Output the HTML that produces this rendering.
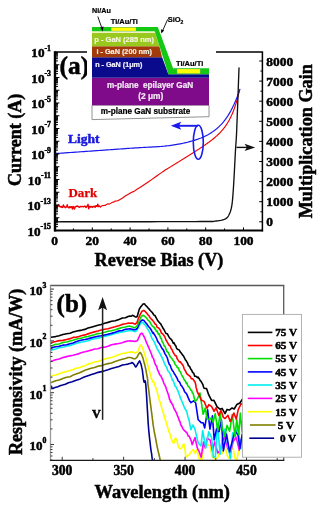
<!DOCTYPE html>
<html><head><meta charset="utf-8"><style>html,body{margin:0;padding:0;background:#fff;width:327px;height:517px;overflow:hidden}svg{display:block;will-change:transform}</style></head>
<body><svg width="327" height="517" viewBox="0 0 327 517"><polyline points="54.50,205.80 56.50,207.00 57.50,206.99 58.15,205.00 58.80,204.98 59.45,206.44 60.10,206.48 60.75,207.10 61.40,206.55 62.05,207.44 62.70,207.34 63.35,204.88 64.00,206.79 64.65,206.47 65.30,207.71 65.95,207.27 66.60,206.88 67.25,204.80 67.90,207.08 68.55,207.57 69.20,207.82 69.85,206.59 70.50,207.53 71.15,206.65 71.80,206.71 72.45,209.08 73.10,206.36 73.75,207.73 74.40,209.04 75.05,206.64 75.70,206.90 76.35,206.12 77.00,206.47 77.65,206.08 78.30,206.51 78.95,207.17 79.60,207.21 80.25,206.54 80.90,206.54 81.55,206.77 82.20,206.38 82.85,206.57 83.50,206.73 84.15,206.55 84.80,206.06 85.45,206.79 86.10,207.56 86.75,206.45 87.40,205.90 88.05,204.34 88.70,208.72 89.35,206.67 90.00,206.27 90.65,207.23 91.30,206.85 91.95,206.48 92.60,207.35 93.25,206.63 93.90,206.32 94.55,206.32 95.20,207.35 95.85,205.77 96.50,205.74 97.15,206.50 97.80,204.12 98.45,206.62 99.10,205.95 99.75,206.14 100.40,207.00" fill="none" stroke="#ee0000" stroke-width="1.4" stroke-linejoin="round" stroke-linecap="round" />
<polyline points="101.00,206.37 101.34,206.30 101.79,205.81 102.37,205.68 103.10,205.72 104.00,205.36 105.14,205.55 106.50,204.41 107.99,203.74 109.52,204.11 111.00,203.13 112.35,202.25 113.63,202.19 114.96,201.16 116.48,201.01 118.30,200.58 120.49,199.31 122.97,197.78 125.64,195.82 128.42,194.32 131.20,192.47 134.03,191.37 136.98,189.30 139.98,187.43 142.97,185.52 145.90,183.60 148.89,181.56 151.97,179.37 154.97,177.21 157.71,175.23 160.00,173.60 161.79,172.37 163.20,171.42 164.31,170.68 165.22,170.10 166.00,169.59 166.59,169.21 166.92,169.00 167.12,168.89 167.27,168.80 167.50,168.66 167.80,168.48 168.10,168.30 168.40,168.11 168.70,167.93 169.00,167.74 169.30,167.56 169.60,167.37 169.90,167.19 170.20,167.00 170.50,166.82 170.80,166.63 171.10,166.45 171.40,166.26 171.70,166.08 172.00,165.89 172.30,165.71 172.60,165.52 172.90,165.34 173.20,165.15 173.50,164.97 173.80,164.78 174.10,164.60 174.40,164.41 174.70,164.23 175.00,164.04 175.30,163.86 175.60,163.67 175.90,163.49 176.20,163.30 176.50,163.11 176.80,162.93 177.10,162.74 177.40,162.56 177.70,162.37 178.00,162.19 178.30,162.00 178.60,161.82 178.90,161.63 179.20,161.44 179.50,161.26 179.80,161.07 180.10,160.89 180.40,160.70 180.70,160.52 181.00,160.33 181.30,160.14 181.60,159.96 181.90,159.77 182.20,159.59 182.50,159.40 182.80,159.21 183.10,159.03 183.40,158.84 183.70,158.65 184.00,158.47 184.30,158.28 184.60,158.09 184.90,157.91 185.20,157.72 185.50,157.53 185.80,157.35 186.10,157.16 186.40,156.97 186.70,156.79 187.00,156.60 187.30,156.41 187.60,156.22 187.90,156.04 188.20,155.85 188.50,155.66 188.80,155.47 189.10,155.28 189.40,155.10 189.70,154.91 190.00,154.72 190.30,154.53 190.60,154.34 190.90,154.15 191.20,153.96 191.50,153.77 191.80,153.58 192.10,153.40 192.40,153.21 192.70,153.02 193.00,152.83 193.30,152.63 193.60,152.44 193.90,152.25 194.20,152.06 194.50,151.87 194.80,151.68 195.10,151.49 195.40,151.30 195.70,151.10 196.00,150.91 196.30,150.72 196.60,150.53 196.90,150.33 197.20,150.14 197.50,149.94 197.80,149.75 198.10,149.56 198.40,149.36 198.70,149.16 199.00,148.97 199.30,148.77 199.60,148.58 199.90,148.38 200.20,148.18 200.50,147.98 200.80,147.79 201.10,147.59 201.40,147.39 201.70,147.19 202.00,146.99 202.30,146.79 202.60,146.58 202.90,146.38 203.20,146.18 203.50,145.98 203.80,145.77 204.10,145.57 204.40,145.36 204.70,145.15 205.00,144.95 205.30,144.74 205.60,144.53 205.90,144.32 206.20,144.11 206.50,143.90 206.80,143.69 207.10,143.48 207.40,143.26 207.70,143.05 208.00,142.83 208.30,142.61 208.60,142.39 208.90,142.17 209.20,141.95 209.50,141.73 209.80,141.51 210.10,141.28 210.40,141.06 210.70,140.83 211.00,140.60 211.30,140.37 211.60,140.14 211.90,139.90 212.20,139.67 212.50,139.43 212.80,139.19 213.10,138.95 213.40,138.70 213.70,138.46 214.00,138.21 214.30,137.96 214.60,137.71 214.90,137.46 215.20,137.20 215.50,136.94 215.80,136.68 216.10,136.41 216.40,136.15 216.70,135.87 217.00,135.60 217.30,135.32 217.60,135.04 217.90,134.76 218.20,134.48 218.50,134.19 218.80,133.89 219.10,133.59 219.40,133.29 219.70,132.99 220.00,132.68 220.30,132.36 220.60,132.04 220.90,131.72 221.20,131.39 221.50,131.06 221.80,130.72 222.10,130.38 222.40,130.03 222.70,129.67 223.00,129.31 223.30,128.94 223.60,128.57 223.90,128.19 224.20,127.80 224.50,127.41 224.80,127.01 225.10,126.60 225.40,126.18 225.70,125.76 226.00,125.32 226.30,124.88 226.60,124.43 226.90,123.97 227.20,123.50 227.50,123.02 227.80,122.53 228.10,122.03 228.40,121.52 228.70,121.00 229.00,120.46 229.30,119.91 229.60,119.35 229.90,118.78 230.20,118.19 230.50,117.59 230.80,116.98 231.10,116.35 231.40,115.70 231.70,115.04 232.00,114.36 232.30,113.66 232.60,112.95 232.90,112.22 233.20,111.47 233.50,110.69 233.80,109.90 234.10,109.09 234.40,108.26 234.70,107.40 235.00,106.52 235.30,105.61 235.60,104.68 235.90,103.73 236.20,102.74 236.50,101.73 236.80,100.67 237.11,99.57 237.41,98.45 237.71,97.33 238.00,96.22 238.29,95.04 238.60,93.77 238.88,92.54 239.13,91.50 239.30,90.75" fill="none" stroke="#ee0000" stroke-width="1.15" stroke-linejoin="round" stroke-linecap="round" />
<polyline points="55.50,153.55 57.00,153.45 58.50,153.34 60.00,153.24 61.50,153.13 63.00,153.03 64.50,152.92 66.00,152.82 67.50,152.71 69.00,152.61 70.50,152.50 72.00,152.40 73.50,152.29 75.00,152.19 76.50,152.08 78.00,151.98 79.50,151.87 81.00,151.76 82.50,151.66 84.00,151.55 85.50,151.45 87.00,151.34 88.50,151.24 90.00,151.13 91.50,151.03 93.00,150.92 94.50,150.81 96.00,150.71 97.50,150.60 99.00,150.50 100.50,150.39 102.00,150.28 103.50,150.18 105.00,150.07 106.50,149.96 108.00,149.86 109.50,149.75 111.00,149.64 112.50,149.54 114.00,149.43 115.50,149.32 117.00,149.21 118.50,149.11 120.00,149.00 121.50,148.89 123.00,148.79 124.50,148.68 126.00,148.57 127.50,148.47 129.00,148.37 130.50,148.26 132.00,148.16 133.50,148.06 135.00,147.97 136.50,147.87 138.00,147.78 139.50,147.69 141.00,147.60 142.50,147.52 144.00,147.43 145.50,147.35 147.00,147.27 148.50,147.19 150.00,147.12 151.50,147.04 153.00,146.96 154.50,146.87 156.00,146.78 157.50,146.69 159.00,146.59 160.50,146.48 162.00,146.36 163.50,146.23 165.00,146.09 166.50,145.93 168.00,145.76 169.50,145.58 171.00,145.38 172.50,145.17 174.00,144.94 175.50,144.70 177.00,144.44 178.50,144.16 180.00,143.88 181.50,143.57 183.00,143.25 184.50,142.92 186.00,142.57 187.50,142.21 189.00,141.83 190.50,141.43 192.00,141.01 193.50,140.57 195.00,140.11 196.50,139.62 198.00,139.11 199.50,138.56 201.00,137.99 202.50,137.37 204.00,136.71 205.50,136.00 207.00,135.25 208.50,134.44 210.00,133.56 211.50,132.62 213.00,131.61 214.50,130.52 216.00,129.34 217.50,128.06 219.00,126.68 220.50,125.18 222.00,123.56 223.50,121.80 225.00,119.89 226.50,117.82 228.00,115.58 229.50,113.14 231.00,110.49 232.50,107.61 234.00,104.48 235.50,101.09 237.00,97.39 238.50,93.37 239.90,89.30" fill="none" stroke="#1a1aee" stroke-width="1.2" stroke-linejoin="round" stroke-linecap="round" />
<polyline points="55.50,221.80 63.06,221.79 73.41,221.78 85.75,221.77 99.31,221.76 113.30,221.75 126.94,221.73 139.43,221.72 150.00,221.70 159.07,221.68 167.58,221.66 175.50,221.64 182.78,221.61 189.41,221.59 195.34,221.56 200.55,221.53 205.00,221.50 208.40,221.48 210.65,221.48 212.03,221.48 212.79,221.48 213.20,221.46 213.53,221.42 214.04,221.33 215.00,221.20 216.32,221.03 217.72,220.83 219.15,220.61 220.57,220.36 221.94,220.06 223.23,219.73 224.40,219.34 225.40,218.90 226.23,218.41 226.91,217.87 227.48,217.29 227.96,216.66 228.37,215.99 228.75,215.27 229.12,214.51 229.50,213.70 229.88,212.85 230.23,211.96 230.54,211.03 230.83,210.05 231.10,209.02 231.34,207.94 231.58,206.80 231.80,205.60 232.00,204.36 232.18,203.08 232.33,201.76 232.48,200.38 232.61,198.93 232.73,197.39 232.86,195.75 233.00,194.00 233.14,192.17 233.28,190.27 233.41,188.30 233.54,186.24 233.67,184.05 233.81,181.73 233.95,179.25 234.10,176.60 234.26,173.67 234.43,170.44 234.61,167.01 234.79,163.46 234.98,159.90 235.16,156.40 235.33,153.07 235.50,150.00 235.65,147.47 235.79,145.52 235.92,143.86 236.04,142.21 236.18,140.29 236.33,137.80 236.50,134.46 236.70,130.00 236.95,123.84 237.25,116.00 237.58,107.10 237.92,97.75 238.26,88.55 238.56,80.12 238.82,73.07 239.00,68.00" fill="none" stroke="#111" stroke-width="1.35" stroke-linejoin="round" stroke-linecap="round" />
<ellipse cx="198.3" cy="142.3" rx="5" ry="17" fill="none" stroke="#1a1aee" stroke-width="1.6"/>
<polyline points="198,125.8 178,125.8" fill="none" stroke="#1a1aee" stroke-width="1.9"/>
<polygon points="170.8,125.8 181.2,121.8 179,125.8 181.2,129.8" fill="#1a1aee"/>
<line x1="236.5" y1="147.4" x2="248" y2="147.4" stroke="#111" stroke-width="1.4"/>
<polygon points="255.2,147.4 244.5,143.8 247,147.4 244.5,151" fill="#111"/>
<text stroke="#1a1add" x="68" y="143.3" font-family="Liberation Serif" font-weight="bold" stroke-width="0.5" font-size="13.5" fill="#1a1add">Light</text>
<text stroke="#e00000" x="68.4" y="197.1" font-family="Liberation Serif" font-weight="bold" stroke-width="0.25" font-size="13" fill="#e00000">Dark</text>
<line x1="55.0" y1="51.2" x2="55.0" y2="231.4" stroke="#000" stroke-width="2.4"/>
<line x1="54.0" y1="230.4" x2="263.09999999999997" y2="230.4" stroke="#000" stroke-width="2"/>
<line x1="262.4" y1="52.0" x2="262.4" y2="231.4" stroke="#000" stroke-width="1.5"/>
<line x1="55.0" y1="52.0" x2="263.09999999999997" y2="52.0" stroke="#000" stroke-width="1.6"/>
<line x1="55.0" y1="230.50" x2="59.40" y2="230.50" stroke="#000" stroke-width="1"/>
<line x1="55.0" y1="226.66" x2="58.00" y2="226.66" stroke="#000" stroke-width="1"/>
<line x1="55.0" y1="224.42" x2="58.00" y2="224.42" stroke="#000" stroke-width="1"/>
<line x1="55.0" y1="222.82" x2="58.00" y2="222.82" stroke="#000" stroke-width="1"/>
<line x1="55.0" y1="221.59" x2="58.00" y2="221.59" stroke="#000" stroke-width="1"/>
<line x1="55.0" y1="220.58" x2="58.00" y2="220.58" stroke="#000" stroke-width="1"/>
<line x1="55.0" y1="219.72" x2="58.00" y2="219.72" stroke="#000" stroke-width="1"/>
<line x1="55.0" y1="218.99" x2="58.00" y2="218.99" stroke="#000" stroke-width="1"/>
<line x1="55.0" y1="218.33" x2="58.00" y2="218.33" stroke="#000" stroke-width="1"/>
<line x1="55.0" y1="217.75" x2="59.40" y2="217.75" stroke="#000" stroke-width="1"/>
<line x1="55.0" y1="213.91" x2="58.00" y2="213.91" stroke="#000" stroke-width="1"/>
<line x1="55.0" y1="211.67" x2="58.00" y2="211.67" stroke="#000" stroke-width="1"/>
<line x1="55.0" y1="210.07" x2="58.00" y2="210.07" stroke="#000" stroke-width="1"/>
<line x1="55.0" y1="208.84" x2="58.00" y2="208.84" stroke="#000" stroke-width="1"/>
<line x1="55.0" y1="207.83" x2="58.00" y2="207.83" stroke="#000" stroke-width="1"/>
<line x1="55.0" y1="206.97" x2="58.00" y2="206.97" stroke="#000" stroke-width="1"/>
<line x1="55.0" y1="206.24" x2="58.00" y2="206.24" stroke="#000" stroke-width="1"/>
<line x1="55.0" y1="205.58" x2="58.00" y2="205.58" stroke="#000" stroke-width="1"/>
<line x1="55.0" y1="205.00" x2="59.40" y2="205.00" stroke="#000" stroke-width="1"/>
<line x1="55.0" y1="201.16" x2="58.00" y2="201.16" stroke="#000" stroke-width="1"/>
<line x1="55.0" y1="198.92" x2="58.00" y2="198.92" stroke="#000" stroke-width="1"/>
<line x1="55.0" y1="197.32" x2="58.00" y2="197.32" stroke="#000" stroke-width="1"/>
<line x1="55.0" y1="196.09" x2="58.00" y2="196.09" stroke="#000" stroke-width="1"/>
<line x1="55.0" y1="195.08" x2="58.00" y2="195.08" stroke="#000" stroke-width="1"/>
<line x1="55.0" y1="194.22" x2="58.00" y2="194.22" stroke="#000" stroke-width="1"/>
<line x1="55.0" y1="193.49" x2="58.00" y2="193.49" stroke="#000" stroke-width="1"/>
<line x1="55.0" y1="192.83" x2="58.00" y2="192.83" stroke="#000" stroke-width="1"/>
<line x1="55.0" y1="192.25" x2="59.40" y2="192.25" stroke="#000" stroke-width="1"/>
<line x1="55.0" y1="188.41" x2="58.00" y2="188.41" stroke="#000" stroke-width="1"/>
<line x1="55.0" y1="186.17" x2="58.00" y2="186.17" stroke="#000" stroke-width="1"/>
<line x1="55.0" y1="184.57" x2="58.00" y2="184.57" stroke="#000" stroke-width="1"/>
<line x1="55.0" y1="183.34" x2="58.00" y2="183.34" stroke="#000" stroke-width="1"/>
<line x1="55.0" y1="182.33" x2="58.00" y2="182.33" stroke="#000" stroke-width="1"/>
<line x1="55.0" y1="181.47" x2="58.00" y2="181.47" stroke="#000" stroke-width="1"/>
<line x1="55.0" y1="180.74" x2="58.00" y2="180.74" stroke="#000" stroke-width="1"/>
<line x1="55.0" y1="180.08" x2="58.00" y2="180.08" stroke="#000" stroke-width="1"/>
<line x1="55.0" y1="179.50" x2="59.40" y2="179.50" stroke="#000" stroke-width="1"/>
<line x1="55.0" y1="175.66" x2="58.00" y2="175.66" stroke="#000" stroke-width="1"/>
<line x1="55.0" y1="173.42" x2="58.00" y2="173.42" stroke="#000" stroke-width="1"/>
<line x1="55.0" y1="171.82" x2="58.00" y2="171.82" stroke="#000" stroke-width="1"/>
<line x1="55.0" y1="170.59" x2="58.00" y2="170.59" stroke="#000" stroke-width="1"/>
<line x1="55.0" y1="169.58" x2="58.00" y2="169.58" stroke="#000" stroke-width="1"/>
<line x1="55.0" y1="168.72" x2="58.00" y2="168.72" stroke="#000" stroke-width="1"/>
<line x1="55.0" y1="167.99" x2="58.00" y2="167.99" stroke="#000" stroke-width="1"/>
<line x1="55.0" y1="167.33" x2="58.00" y2="167.33" stroke="#000" stroke-width="1"/>
<line x1="55.0" y1="166.75" x2="59.40" y2="166.75" stroke="#000" stroke-width="1"/>
<line x1="55.0" y1="162.91" x2="58.00" y2="162.91" stroke="#000" stroke-width="1"/>
<line x1="55.0" y1="160.67" x2="58.00" y2="160.67" stroke="#000" stroke-width="1"/>
<line x1="55.0" y1="159.07" x2="58.00" y2="159.07" stroke="#000" stroke-width="1"/>
<line x1="55.0" y1="157.84" x2="58.00" y2="157.84" stroke="#000" stroke-width="1"/>
<line x1="55.0" y1="156.83" x2="58.00" y2="156.83" stroke="#000" stroke-width="1"/>
<line x1="55.0" y1="155.97" x2="58.00" y2="155.97" stroke="#000" stroke-width="1"/>
<line x1="55.0" y1="155.24" x2="58.00" y2="155.24" stroke="#000" stroke-width="1"/>
<line x1="55.0" y1="154.58" x2="58.00" y2="154.58" stroke="#000" stroke-width="1"/>
<line x1="55.0" y1="154.00" x2="59.40" y2="154.00" stroke="#000" stroke-width="1"/>
<line x1="55.0" y1="150.16" x2="58.00" y2="150.16" stroke="#000" stroke-width="1"/>
<line x1="55.0" y1="147.92" x2="58.00" y2="147.92" stroke="#000" stroke-width="1"/>
<line x1="55.0" y1="146.32" x2="58.00" y2="146.32" stroke="#000" stroke-width="1"/>
<line x1="55.0" y1="145.09" x2="58.00" y2="145.09" stroke="#000" stroke-width="1"/>
<line x1="55.0" y1="144.08" x2="58.00" y2="144.08" stroke="#000" stroke-width="1"/>
<line x1="55.0" y1="143.22" x2="58.00" y2="143.22" stroke="#000" stroke-width="1"/>
<line x1="55.0" y1="142.49" x2="58.00" y2="142.49" stroke="#000" stroke-width="1"/>
<line x1="55.0" y1="141.83" x2="58.00" y2="141.83" stroke="#000" stroke-width="1"/>
<line x1="55.0" y1="141.25" x2="59.40" y2="141.25" stroke="#000" stroke-width="1"/>
<line x1="55.0" y1="137.41" x2="58.00" y2="137.41" stroke="#000" stroke-width="1"/>
<line x1="55.0" y1="135.17" x2="58.00" y2="135.17" stroke="#000" stroke-width="1"/>
<line x1="55.0" y1="133.57" x2="58.00" y2="133.57" stroke="#000" stroke-width="1"/>
<line x1="55.0" y1="132.34" x2="58.00" y2="132.34" stroke="#000" stroke-width="1"/>
<line x1="55.0" y1="131.33" x2="58.00" y2="131.33" stroke="#000" stroke-width="1"/>
<line x1="55.0" y1="130.47" x2="58.00" y2="130.47" stroke="#000" stroke-width="1"/>
<line x1="55.0" y1="129.74" x2="58.00" y2="129.74" stroke="#000" stroke-width="1"/>
<line x1="55.0" y1="129.08" x2="58.00" y2="129.08" stroke="#000" stroke-width="1"/>
<line x1="55.0" y1="128.50" x2="59.40" y2="128.50" stroke="#000" stroke-width="1"/>
<line x1="55.0" y1="124.66" x2="58.00" y2="124.66" stroke="#000" stroke-width="1"/>
<line x1="55.0" y1="122.42" x2="58.00" y2="122.42" stroke="#000" stroke-width="1"/>
<line x1="55.0" y1="120.82" x2="58.00" y2="120.82" stroke="#000" stroke-width="1"/>
<line x1="55.0" y1="119.59" x2="58.00" y2="119.59" stroke="#000" stroke-width="1"/>
<line x1="55.0" y1="118.58" x2="58.00" y2="118.58" stroke="#000" stroke-width="1"/>
<line x1="55.0" y1="117.72" x2="58.00" y2="117.72" stroke="#000" stroke-width="1"/>
<line x1="55.0" y1="116.99" x2="58.00" y2="116.99" stroke="#000" stroke-width="1"/>
<line x1="55.0" y1="116.33" x2="58.00" y2="116.33" stroke="#000" stroke-width="1"/>
<line x1="55.0" y1="115.75" x2="59.40" y2="115.75" stroke="#000" stroke-width="1"/>
<line x1="55.0" y1="111.91" x2="58.00" y2="111.91" stroke="#000" stroke-width="1"/>
<line x1="55.0" y1="109.67" x2="58.00" y2="109.67" stroke="#000" stroke-width="1"/>
<line x1="55.0" y1="108.07" x2="58.00" y2="108.07" stroke="#000" stroke-width="1"/>
<line x1="55.0" y1="106.84" x2="58.00" y2="106.84" stroke="#000" stroke-width="1"/>
<line x1="55.0" y1="105.83" x2="58.00" y2="105.83" stroke="#000" stroke-width="1"/>
<line x1="55.0" y1="104.97" x2="58.00" y2="104.97" stroke="#000" stroke-width="1"/>
<line x1="55.0" y1="104.24" x2="58.00" y2="104.24" stroke="#000" stroke-width="1"/>
<line x1="55.0" y1="103.58" x2="58.00" y2="103.58" stroke="#000" stroke-width="1"/>
<line x1="55.0" y1="103.00" x2="59.40" y2="103.00" stroke="#000" stroke-width="1"/>
<line x1="55.0" y1="99.16" x2="58.00" y2="99.16" stroke="#000" stroke-width="1"/>
<line x1="55.0" y1="96.92" x2="58.00" y2="96.92" stroke="#000" stroke-width="1"/>
<line x1="55.0" y1="95.32" x2="58.00" y2="95.32" stroke="#000" stroke-width="1"/>
<line x1="55.0" y1="94.09" x2="58.00" y2="94.09" stroke="#000" stroke-width="1"/>
<line x1="55.0" y1="93.08" x2="58.00" y2="93.08" stroke="#000" stroke-width="1"/>
<line x1="55.0" y1="92.22" x2="58.00" y2="92.22" stroke="#000" stroke-width="1"/>
<line x1="55.0" y1="91.49" x2="58.00" y2="91.49" stroke="#000" stroke-width="1"/>
<line x1="55.0" y1="90.83" x2="58.00" y2="90.83" stroke="#000" stroke-width="1"/>
<line x1="55.0" y1="90.25" x2="59.40" y2="90.25" stroke="#000" stroke-width="1"/>
<line x1="55.0" y1="86.41" x2="58.00" y2="86.41" stroke="#000" stroke-width="1"/>
<line x1="55.0" y1="84.17" x2="58.00" y2="84.17" stroke="#000" stroke-width="1"/>
<line x1="55.0" y1="82.57" x2="58.00" y2="82.57" stroke="#000" stroke-width="1"/>
<line x1="55.0" y1="81.34" x2="58.00" y2="81.34" stroke="#000" stroke-width="1"/>
<line x1="55.0" y1="80.33" x2="58.00" y2="80.33" stroke="#000" stroke-width="1"/>
<line x1="55.0" y1="79.47" x2="58.00" y2="79.47" stroke="#000" stroke-width="1"/>
<line x1="55.0" y1="78.74" x2="58.00" y2="78.74" stroke="#000" stroke-width="1"/>
<line x1="55.0" y1="78.08" x2="58.00" y2="78.08" stroke="#000" stroke-width="1"/>
<line x1="55.0" y1="77.50" x2="59.40" y2="77.50" stroke="#000" stroke-width="1"/>
<line x1="55.0" y1="73.66" x2="58.00" y2="73.66" stroke="#000" stroke-width="1"/>
<line x1="55.0" y1="71.42" x2="58.00" y2="71.42" stroke="#000" stroke-width="1"/>
<line x1="55.0" y1="69.82" x2="58.00" y2="69.82" stroke="#000" stroke-width="1"/>
<line x1="55.0" y1="68.59" x2="58.00" y2="68.59" stroke="#000" stroke-width="1"/>
<line x1="55.0" y1="67.58" x2="58.00" y2="67.58" stroke="#000" stroke-width="1"/>
<line x1="55.0" y1="66.72" x2="58.00" y2="66.72" stroke="#000" stroke-width="1"/>
<line x1="55.0" y1="65.99" x2="58.00" y2="65.99" stroke="#000" stroke-width="1"/>
<line x1="55.0" y1="65.33" x2="58.00" y2="65.33" stroke="#000" stroke-width="1"/>
<line x1="55.0" y1="64.75" x2="59.40" y2="64.75" stroke="#000" stroke-width="1"/>
<line x1="55.0" y1="60.91" x2="58.00" y2="60.91" stroke="#000" stroke-width="1"/>
<line x1="55.0" y1="58.67" x2="58.00" y2="58.67" stroke="#000" stroke-width="1"/>
<line x1="55.0" y1="57.07" x2="58.00" y2="57.07" stroke="#000" stroke-width="1"/>
<line x1="55.0" y1="55.84" x2="58.00" y2="55.84" stroke="#000" stroke-width="1"/>
<line x1="55.0" y1="54.83" x2="58.00" y2="54.83" stroke="#000" stroke-width="1"/>
<line x1="55.0" y1="53.97" x2="58.00" y2="53.97" stroke="#000" stroke-width="1"/>
<line x1="55.0" y1="53.24" x2="58.00" y2="53.24" stroke="#000" stroke-width="1"/>
<line x1="55.0" y1="52.58" x2="58.00" y2="52.58" stroke="#000" stroke-width="1"/>
<line x1="262.4" y1="221.80" x2="259.20" y2="221.80" stroke="#000" stroke-width="1"/>
<line x1="262.4" y1="211.75" x2="260.40" y2="211.75" stroke="#000" stroke-width="1"/>
<line x1="262.4" y1="201.70" x2="259.20" y2="201.70" stroke="#000" stroke-width="1"/>
<line x1="262.4" y1="191.65" x2="260.40" y2="191.65" stroke="#000" stroke-width="1"/>
<line x1="262.4" y1="181.60" x2="259.20" y2="181.60" stroke="#000" stroke-width="1"/>
<line x1="262.4" y1="171.55" x2="260.40" y2="171.55" stroke="#000" stroke-width="1"/>
<line x1="262.4" y1="161.50" x2="259.20" y2="161.50" stroke="#000" stroke-width="1"/>
<line x1="262.4" y1="151.45" x2="260.40" y2="151.45" stroke="#000" stroke-width="1"/>
<line x1="262.4" y1="141.40" x2="259.20" y2="141.40" stroke="#000" stroke-width="1"/>
<line x1="262.4" y1="131.35" x2="260.40" y2="131.35" stroke="#000" stroke-width="1"/>
<line x1="262.4" y1="121.30" x2="259.20" y2="121.30" stroke="#000" stroke-width="1"/>
<line x1="262.4" y1="111.25" x2="260.40" y2="111.25" stroke="#000" stroke-width="1"/>
<line x1="262.4" y1="101.20" x2="259.20" y2="101.20" stroke="#000" stroke-width="1"/>
<line x1="262.4" y1="91.15" x2="260.40" y2="91.15" stroke="#000" stroke-width="1"/>
<line x1="262.4" y1="81.10" x2="259.20" y2="81.10" stroke="#000" stroke-width="1"/>
<line x1="262.4" y1="71.05" x2="260.40" y2="71.05" stroke="#000" stroke-width="1"/>
<line x1="262.4" y1="61.00" x2="259.20" y2="61.00" stroke="#000" stroke-width="1"/>
<line x1="54.50" y1="230.4" x2="54.50" y2="227.40" stroke="#000" stroke-width="1"/>
<line x1="73.40" y1="230.4" x2="73.40" y2="228.40" stroke="#000" stroke-width="1"/>
<line x1="92.30" y1="230.4" x2="92.30" y2="227.40" stroke="#000" stroke-width="1"/>
<line x1="111.20" y1="230.4" x2="111.20" y2="228.40" stroke="#000" stroke-width="1"/>
<line x1="130.10" y1="230.4" x2="130.10" y2="227.40" stroke="#000" stroke-width="1"/>
<line x1="149.00" y1="230.4" x2="149.00" y2="228.40" stroke="#000" stroke-width="1"/>
<line x1="167.90" y1="230.4" x2="167.90" y2="227.40" stroke="#000" stroke-width="1"/>
<line x1="186.80" y1="230.4" x2="186.80" y2="228.40" stroke="#000" stroke-width="1"/>
<line x1="205.70" y1="230.4" x2="205.70" y2="227.40" stroke="#000" stroke-width="1"/>
<line x1="224.60" y1="230.4" x2="224.60" y2="228.40" stroke="#000" stroke-width="1"/>
<line x1="243.50" y1="230.4" x2="243.50" y2="227.40" stroke="#000" stroke-width="1"/>
<line x1="262.40" y1="230.4" x2="262.40" y2="228.40" stroke="#000" stroke-width="1"/>
<text stroke="#000" x="51" y="57.30" text-anchor="end" font-family="Liberation Serif" font-weight="bold" stroke-width="0.5" font-size="13.2" fill="#000">10<tspan font-size="7.8" dy="-6.4">-1</tspan></text>
<text stroke="#000" x="51" y="82.80" text-anchor="end" font-family="Liberation Serif" font-weight="bold" stroke-width="0.5" font-size="13.2" fill="#000">10<tspan font-size="7.8" dy="-6.4">-3</tspan></text>
<text stroke="#000" x="51" y="108.30" text-anchor="end" font-family="Liberation Serif" font-weight="bold" stroke-width="0.5" font-size="13.2" fill="#000">10<tspan font-size="7.8" dy="-6.4">-5</tspan></text>
<text stroke="#000" x="51" y="133.80" text-anchor="end" font-family="Liberation Serif" font-weight="bold" stroke-width="0.5" font-size="13.2" fill="#000">10<tspan font-size="7.8" dy="-6.4">-7</tspan></text>
<text stroke="#000" x="51" y="159.30" text-anchor="end" font-family="Liberation Serif" font-weight="bold" stroke-width="0.5" font-size="13.2" fill="#000">10<tspan font-size="7.8" dy="-6.4">-9</tspan></text>
<text stroke="#000" x="51" y="184.80" text-anchor="end" font-family="Liberation Serif" font-weight="bold" stroke-width="0.5" font-size="13.2" fill="#000">10<tspan font-size="7.8" dy="-6.4">-11</tspan></text>
<text stroke="#000" x="51" y="210.30" text-anchor="end" font-family="Liberation Serif" font-weight="bold" stroke-width="0.5" font-size="13.2" fill="#000">10<tspan font-size="7.8" dy="-6.4">-13</tspan></text>
<text stroke="#000" x="51" y="235.80" text-anchor="end" font-family="Liberation Serif" font-weight="bold" stroke-width="0.5" font-size="13.2" fill="#000">10<tspan font-size="7.8" dy="-6.4">-15</tspan></text>
<text stroke="#000" x="54.50" y="245.4" text-anchor="middle" font-family="Liberation Serif" font-weight="bold" stroke-width="0.5" font-size="13.4" fill="#000">0</text>
<text stroke="#000" x="92.30" y="245.4" text-anchor="middle" font-family="Liberation Serif" font-weight="bold" stroke-width="0.5" font-size="13.4" fill="#000">20</text>
<text stroke="#000" x="130.10" y="245.4" text-anchor="middle" font-family="Liberation Serif" font-weight="bold" stroke-width="0.5" font-size="13.4" fill="#000">40</text>
<text stroke="#000" x="167.90" y="245.4" text-anchor="middle" font-family="Liberation Serif" font-weight="bold" stroke-width="0.5" font-size="13.4" fill="#000">60</text>
<text stroke="#000" x="205.70" y="245.4" text-anchor="middle" font-family="Liberation Serif" font-weight="bold" stroke-width="0.5" font-size="13.4" fill="#000">80</text>
<text stroke="#000" x="243.50" y="245.4" text-anchor="middle" font-family="Liberation Serif" font-weight="bold" stroke-width="0.5" font-size="13.4" fill="#000">100</text>
<text stroke="#000" x="266.3" y="226.30" font-family="Liberation Serif" font-weight="bold" stroke-width="0.5" font-size="13.4" fill="#000">0</text>
<text stroke="#000" x="266.3" y="206.20" font-family="Liberation Serif" font-weight="bold" stroke-width="0.5" font-size="13.4" fill="#000">1000</text>
<text stroke="#000" x="266.3" y="186.10" font-family="Liberation Serif" font-weight="bold" stroke-width="0.5" font-size="13.4" fill="#000">2000</text>
<text stroke="#000" x="266.3" y="166.00" font-family="Liberation Serif" font-weight="bold" stroke-width="0.5" font-size="13.4" fill="#000">3000</text>
<text stroke="#000" x="266.3" y="145.90" font-family="Liberation Serif" font-weight="bold" stroke-width="0.5" font-size="13.4" fill="#000">4000</text>
<text stroke="#000" x="266.3" y="125.80" font-family="Liberation Serif" font-weight="bold" stroke-width="0.5" font-size="13.4" fill="#000">5000</text>
<text stroke="#000" x="266.3" y="105.70" font-family="Liberation Serif" font-weight="bold" stroke-width="0.5" font-size="13.4" fill="#000">6000</text>
<text stroke="#000" x="266.3" y="85.60" font-family="Liberation Serif" font-weight="bold" stroke-width="0.5" font-size="13.4" fill="#000">7000</text>
<text stroke="#000" x="266.3" y="65.50" font-family="Liberation Serif" font-weight="bold" stroke-width="0.5" font-size="13.4" fill="#000">8000</text>
<text stroke="#000" x="94.6" y="265.7" font-family="Liberation Serif" font-weight="bold" stroke-width="0.5" font-size="18.1" fill="#000">Reverse Bias (V)</text>
<text stroke="#000" transform="translate(20.6,186) rotate(-90)" font-family="Liberation Serif" font-weight="bold" stroke-width="0.5" font-size="18" fill="#000">Current (A)</text>
<text stroke="#000" transform="translate(312.1,218.3) rotate(-90)" font-family="Liberation Serif" font-weight="bold" stroke-width="0.5" font-size="18.2" fill="#000">Multiplication Gain</text>
<text stroke="#000" x="59.6" y="73.8" font-family="Liberation Serif" font-weight="bold" stroke-width="0.5" font-size="25.4" fill="#000">(a)</text>
<rect x="87" y="0" width="129" height="120" fill="#fff"/>
<polygon points="92,105.2 209,105.2 209,116.7 92,119.6" fill="#fff" stroke="#777" stroke-width="0.8"/>
<rect x="92" y="77.8" width="117" height="27.4" fill="#7f0a8a"/>
<polygon points="92,57.3 162.1,57.3 168.4,74.3 209,74.3 209,77.8 92,77.8" fill="#0a0a8c"/>
<polygon points="92,46.3 159.4,46.3 162.1,57.3 92,57.3" fill="#a33a0c"/>
<polygon points="92,33 155.2,33 159.4,46.3 92,46.3" fill="#99c81e"/>
<polygon points="92,31.3 154.7,31.3 155.2,33 92,33" fill="#f2f0c0"/>
<polygon points="92,27 157.8,27 173.1,68.2 209,68.2 209,74.3 168.4,74.3 154.7,31.3 92,31.3" fill="#14c814"/>
<rect x="111.2" y="27.4" width="24.8" height="3.6" fill="#ffff00" stroke="#999" stroke-width="0.3"/>
<rect x="177" y="69" width="23.1" height="4.5" fill="#ffff00" stroke="#999" stroke-width="0.3"/>
<text stroke="#000" stroke-width="0.22" x="92" y="12.5" font-family="Liberation Sans" font-weight="bold" font-size="7.2" fill="#000">Ni/Au</text>
<text stroke="#000" stroke-width="0.22" x="110.7" y="23.5" font-family="Liberation Sans" font-weight="bold" font-size="7.5" fill="#000">Ti/Au/Ti</text>
<text stroke="#000" stroke-width="0.22" x="167.7" y="21.7" font-family="Liberation Sans" font-weight="bold" font-size="7.5" fill="#000">SiO<tspan font-size="5" dy="1.8">2</tspan></text>
<text stroke="#000" stroke-width="0.22" x="176" y="65.6" font-family="Liberation Sans" font-weight="bold" font-size="7.5" fill="#000">Ti/Au/Ti</text>
<line x1="97.8" y1="16.5" x2="102" y2="28.5" stroke="#000" stroke-width="0.9"/>
<polygon points="102.6,31.4 100.3,27.2 103.6,26.4" fill="#000"/>
<line x1="167.7" y1="19.3" x2="162.5" y2="31" stroke="#000" stroke-width="0.9"/>
<polygon points="161.2,33.4 161.0,29.3 164.2,30.5" fill="#000"/>
<text stroke="#f4f4dc" stroke-width="0.22" x="94.3" y="42.4" font-family="Liberation Sans" font-weight="bold" font-size="7.5" fill="#f4f4dc">p - GaN (285 nm)</text>
<text stroke="#f4ece0" stroke-width="0.22" x="96.4" y="54" font-family="Liberation Sans" font-weight="bold" font-size="7.3" fill="#f4ece0">i - GaN (200 nm)</text>
<text stroke="#f0f0ff" stroke-width="0.22" x="95.2" y="66.8" font-family="Liberation Sans" font-weight="bold" font-size="7.2" fill="#f0f0ff">n - GaN (1μm)</text>
<text stroke="#f4e8f4" stroke-width="0.22" x="107.1" y="87.8" font-family="Liberation Sans" font-weight="bold" font-size="8.2" fill="#f4e8f4" xml:space="preserve">m-plane  epilayer GaN</text>
<text stroke="#f4e8f4" stroke-width="0.22" x="138.2" y="98.5" font-family="Liberation Sans" font-weight="bold" font-size="8.4" fill="#f4e8f4">(2 μm)</text>
<text stroke="#000" stroke-width="0.22" x="100.7" y="113.5" font-family="Liberation Sans" font-weight="bold" font-size="8.2" fill="#000">m-plane GaN substrate</text>
<clipPath id="cb"><rect x="50.5" y="285.5" width="233.2" height="174.8"/></clipPath>
<g clip-path="url(#cb)">
<polyline points="50.50,389.02 50.60,388.81 50.74,387.90 50.91,387.15 51.09,386.92 51.29,386.56 51.50,386.25 51.60,386.39 51.56,386.91 51.54,387.52 51.68,387.80 52.12,388.44 53.00,388.40 54.30,387.85 55.91,387.29 57.83,386.70 60.03,385.78 62.52,385.08 65.30,384.22 68.51,382.71 72.20,381.73 76.17,380.35 80.25,378.89 84.25,377.09 88.00,375.70 91.49,374.54 94.87,373.41 98.17,372.35 101.43,371.61 104.70,370.79 108.00,369.74 111.51,368.44 115.23,367.47 118.94,366.51 122.45,365.02 125.54,364.57 128.00,364.09 129.71,363.53 130.82,363.18 131.51,362.80 131.96,362.53 132.36,363.02 132.90,362.88 133.52,363.67 134.05,364.57 134.53,365.07 135.00,365.91 135.48,366.88 136.00,366.86 136.58,365.93 137.20,364.79 137.84,363.44 138.46,362.66 139.06,361.66 139.60,360.95 140.09,361.92 140.54,363.01 140.96,364.15 141.36,365.54 141.74,367.41 142.10,368.84 142.44,370.66 142.75,373.53 143.04,375.62 143.32,377.80 143.60,380.11 143.90,381.35 144.20,382.27 144.49,381.91 144.78,380.90 145.08,380.82 145.42,381.91 145.80,384.82 146.23,390.45 146.69,397.58 147.18,406.24 147.70,414.95 148.24,423.96 148.80,430.80 149.43,437.15 150.15,443.37 150.89,449.55 151.59,453.64 152.18,458.66 152.60,461.00" fill="none" stroke="#000090" stroke-width="1.6" stroke-linejoin="round" stroke-linecap="round" />
<polyline points="50.50,382.62 52.64,381.97 55.61,380.72 59.12,379.96 62.89,378.62 66.61,377.30 70.00,376.71 73.06,375.11 76.04,374.10 78.97,373.02 81.91,371.65 84.90,370.29 88.00,369.31 91.22,368.33 94.52,367.57 97.88,366.21 101.26,365.66 104.64,364.56 108.00,363.64 111.48,362.91 115.14,361.52 118.79,360.33 122.27,359.33 125.40,358.51 128.00,357.56 129.98,357.52 131.46,357.70 132.59,358.15 133.51,358.73 134.37,358.82 135.30,358.72 136.27,357.91 137.16,356.94 137.98,355.28 138.74,354.03 139.48,353.12 140.20,352.43 140.89,353.20 141.52,354.55 142.12,355.99 142.71,357.33 143.30,359.37 143.90,361.76 144.55,364.02 145.25,367.14 145.95,370.24 146.60,373.84 147.17,376.79 147.60,379.18 147.80,379.85 147.80,380.43 147.70,380.26 147.64,380.18 147.73,382.08 148.10,385.33 148.79,390.33 149.72,398.25 150.80,406.27 151.96,415.27 153.12,424.59 154.20,431.50 155.29,436.57 156.46,443.10 157.63,448.85 158.72,453.49 159.64,457.36 160.30,460.67" fill="none" stroke="#7f7f00" stroke-width="1.6" stroke-linejoin="round" stroke-linecap="round" />
<polyline points="50.50,376.66 52.64,375.51 55.61,374.99 59.12,373.84 62.89,372.39 66.61,371.46 70.00,370.59 73.06,369.50 76.04,368.17 78.97,367.80 81.91,366.64 84.90,365.75 88.00,364.12 91.22,363.22 94.52,362.04 97.88,361.55 101.26,360.17 104.64,359.06 108.00,358.25 111.47,357.50 115.09,356.25 118.71,354.67 122.18,353.51 125.33,353.13 128.00,352.25 130.14,352.12 131.87,351.85 133.29,352.17 134.48,352.93 135.55,352.85 136.60,352.30 137.56,351.95 138.34,350.24 139.01,348.65 139.60,346.55 140.18,345.94 140.80,345.00 141.44,345.99 142.05,346.71 142.64,348.08 143.24,349.99 143.85,352.20 144.50,353.74 145.19,355.83 145.91,358.60 146.65,361.09 147.39,363.73 148.11,366.42 148.80,368.79 149.47,371.21 150.13,373.40 150.77,375.62 151.39,378.52 151.97,379.51 152.50,381.40 152.92,381.70 153.23,382.25 153.50,381.67 153.81,382.24 154.25,382.51 154.90,385.42 155.80,387.83 156.90,390.76 158.12,395.39 159.39,400.56 160.64,403.32 161.80,408.47 162.87,411.32 163.92,414.92 164.94,418.93 165.95,421.43 166.93,424.80 167.90,428.14 168.88,431.71 169.87,433.69 170.84,437.58 171.76,440.02 172.59,442.00 173.30,442.93 173.84,443.03 174.21,441.67 174.50,440.42 174.78,438.86 175.12,439.05 175.60,438.06 176.24,438.97 176.99,440.75 177.81,444.46 178.64,446.87 179.45,448.43 180.20,448.81 180.90,448.66 181.58,447.80 182.24,446.73 182.87,444.83 183.46,444.47 184.00,444.17 184.44,446.70 184.79,448.92 185.10,450.83 185.42,452.97 185.80,456.47 186.30,456.56 186.99,456.80 187.83,455.55 188.74,455.16 189.62,454.07 190.37,453.00 190.90,451.76 193.31,449.58 195.05,453.38 196.69,449.79 199.22,458.46 201.88,459.37 204.10,444.33 205.94,446.78 207.61,444.98 210.21,445.54 212.04,456.61 214.97,458.91 217.51,457.86 220.21,451.11 222.03,453.68 224.97,446.78 227.57,456.41 229.17,458.27 231.58,446.52 233.28,449.44 235.00,458.10 236.93,459.86 239.32,447.77 242.01,446.76 244.64,453.86" fill="none" stroke="#ffff00" stroke-width="1.6" stroke-linejoin="round" stroke-linecap="round" />
<polyline points="50.50,361.03 52.64,360.80 55.61,359.71 59.12,358.96 62.89,357.57 66.61,356.61 70.00,355.84 73.06,355.28 76.04,354.45 78.97,353.61 81.91,352.51 84.90,351.84 88.00,350.98 91.22,350.14 94.52,349.06 97.88,348.77 101.26,347.45 104.64,347.16 108.00,346.31 111.47,344.78 115.09,344.15 118.71,343.47 122.18,342.70 125.33,341.60 128.00,340.94 130.14,340.69 131.85,341.31 133.24,341.03 134.43,341.49 135.51,341.16 136.60,341.02 137.63,340.25 138.51,338.06 139.29,336.70 140.01,334.77 140.73,333.79 141.50,333.24 142.29,333.38 143.06,334.95 143.82,336.23 144.60,337.79 145.42,339.82 146.30,342.19 147.25,344.29 148.27,346.55 149.32,348.95 150.39,351.51 151.46,354.05 152.50,357.51 153.52,358.47 154.53,362.30 155.54,364.94 156.56,366.11 157.57,369.99 158.60,371.98 159.66,374.63 160.75,375.77 161.84,378.13 162.92,380.36 163.95,383.66 164.90,385.16 165.78,387.12 166.62,389.73 167.41,391.95 168.15,393.94 168.85,396.22 169.50,399.40 170.07,399.84 170.56,402.08 171.00,401.69 171.44,402.51 171.93,403.82 172.50,404.34 173.17,405.98 173.91,408.41 174.70,409.75 175.51,411.18 176.31,412.50 177.10,414.74 177.83,416.68 178.52,418.01 179.21,420.45 179.94,421.39 180.76,424.72 181.70,426.21 182.85,428.67 184.18,430.36 185.59,431.56 186.99,432.91 188.26,436.18 189.30,436.33 190.11,438.48 190.78,439.76 191.33,441.10 191.76,443.17 192.11,444.67 192.40,444.17 195.05,437.56 197.28,447.87 199.21,451.63 201.17,457.15 203.49,442.07 205.23,447.65 207.21,438.24 210.23,440.14 212.49,451.22 214.64,441.90 217.78,452.94 220.39,450.01 222.43,441.10 224.74,436.41 227.74,448.52 230.47,453.47 233.01,441.90 236.09,437.10 239.25,450.13 241.10,439.31 244.20,439.81" fill="none" stroke="#ff00ff" stroke-width="1.6" stroke-linejoin="round" stroke-linecap="round" />
<polyline points="50.50,350.39 52.64,349.63 55.61,348.96 59.12,347.72 62.89,347.30 66.61,345.97 70.00,345.59 73.06,344.61 76.04,343.59 78.97,342.70 81.91,342.01 84.90,341.49 88.00,340.74 91.22,339.51 94.52,338.65 97.88,338.14 101.26,337.34 104.64,336.36 108.00,335.41 111.47,334.77 115.11,333.39 118.75,332.62 122.22,331.84 125.36,331.44 128.00,330.70 130.05,330.73 131.63,330.65 132.88,330.85 133.93,331.16 134.92,331.72 136.00,331.14 137.11,329.75 138.14,327.83 139.11,326.19 140.06,324.44 141.01,322.85 142.00,322.13 143.07,322.80 144.21,324.11 145.36,325.20 146.45,326.81 147.42,328.66 148.20,329.94 148.60,330.64 148.64,330.26 148.55,330.51 148.59,330.63 148.99,331.39 150.00,332.97 151.84,338.11 154.35,342.09 157.23,348.93 160.17,353.92 162.86,359.43 165.00,364.77 166.56,367.08 167.78,370.69 168.76,371.79 169.57,372.83 170.33,374.40 171.10,376.35 171.82,378.35 172.39,380.16 172.90,379.92 173.42,381.61 174.03,382.72 174.80,385.85 175.77,386.51 176.89,388.79 178.10,391.43 179.34,394.76 180.56,398.39 181.70,400.99 182.80,403.28 183.90,406.33 184.99,408.78 186.02,410.26 186.97,412.54 187.80,416.38 188.53,418.66 189.17,420.16 189.73,424.05 190.21,426.08 190.60,428.22 190.90,429.70 192.77,424.99 194.93,429.06 198.08,442.67 200.99,445.96 202.67,430.51 205.74,447.74 208.78,431.74 211.67,437.89 213.33,457.14 215.34,456.90 217.48,423.34 220.07,454.20 222.18,439.04 224.99,428.98 228.10,446.80 230.46,458.59 232.67,432.69 235.06,436.82 237.95,426.61 240.78,448.99 242.90,427.52 244.62,456.00" fill="none" stroke="#00eeee" stroke-width="1.6" stroke-linejoin="round" stroke-linecap="round" />
<polyline points="50.50,348.12 52.64,347.47 55.61,346.73 59.12,346.24 62.89,345.16 66.61,344.69 70.00,343.77 73.06,343.04 76.04,341.73 78.97,340.80 81.91,340.01 84.90,339.49 88.00,338.85 91.22,337.88 94.52,336.95 97.88,336.30 101.26,335.67 104.64,334.92 108.00,334.17 111.47,333.36 115.11,332.27 118.75,330.91 122.22,330.51 125.36,329.37 128.00,329.05 130.05,328.79 131.62,329.30 132.86,329.33 133.90,329.70 134.90,329.76 136.00,329.26 137.12,328.53 138.13,326.37 139.09,323.98 140.07,321.94 141.12,320.82 142.30,319.91 143.69,320.30 145.27,322.18 146.91,324.08 148.52,326.55 149.99,328.05 151.20,329.95 152.04,331.68 152.58,332.50 152.97,333.30 153.39,332.49 153.97,334.03 154.90,335.31 156.26,337.69 157.94,341.85 159.80,344.21 161.69,348.01 163.47,350.12 165.00,353.86 166.25,355.75 167.33,357.99 168.30,361.44 169.21,364.17 170.13,364.98 171.10,368.07 172.14,370.22 173.22,371.51 174.30,373.70 175.34,375.09 176.32,376.86 177.20,378.46 177.94,380.34 178.55,381.45 179.09,381.53 179.63,382.04 180.21,383.55 180.90,385.32 181.71,385.79 182.60,387.50 183.54,388.88 184.50,391.56 185.43,392.72 186.30,393.41 187.17,395.11 188.06,397.39 188.94,399.42 189.74,401.19 190.41,401.58 190.90,402.69 193.61,400.92 195.70,403.04 198.21,419.78 201.19,422.64 203.11,422.68 204.72,427.99 207.63,409.86 209.97,429.11 212.45,415.90 214.19,439.87 216.60,428.66 219.03,431.70 221.42,419.85 223.34,450.97 226.50,434.09 229.58,451.74 232.17,441.59 235.03,430.87 237.98,434.69 239.93,448.40 242.14,434.66 244.90,437.81" fill="none" stroke="#0000ff" stroke-width="1.6" stroke-linejoin="round" stroke-linecap="round" />
<polyline points="50.50,345.94 52.64,345.54 55.61,344.30 59.12,343.98 62.89,342.53 66.61,341.93 70.00,341.04 73.06,340.30 76.04,339.29 78.97,338.59 81.91,337.92 84.90,337.03 88.00,336.41 91.22,335.47 94.52,334.67 97.88,333.59 101.26,333.20 104.64,332.31 108.00,331.31 111.47,330.80 115.11,329.83 118.75,328.63 122.22,327.53 125.36,326.99 128.00,326.22 130.04,326.17 131.60,326.72 132.83,326.98 133.87,327.63 134.88,327.74 136.00,326.88 137.16,325.83 138.21,323.16 139.24,320.99 140.29,318.53 141.42,316.45 142.70,315.29 144.23,316.06 145.97,317.39 147.79,319.80 149.58,321.47 151.19,324.46 152.50,326.29 153.46,326.87 154.16,327.83 154.68,327.39 155.12,329.42 155.57,329.20 156.10,330.82 156.69,331.61 157.27,331.10 157.85,333.11 158.45,334.35 159.10,333.91 159.80,335.73 160.57,338.02 161.39,338.71 162.25,341.95 163.14,342.81 164.06,345.76 165.00,346.46 165.96,348.97 166.97,351.62 167.99,352.23 169.03,354.19 170.07,356.42 171.10,357.77 172.12,358.81 173.13,360.48 174.15,361.79 175.17,364.53 176.18,365.48 177.20,367.41 178.24,367.84 179.29,370.84 180.35,371.59 181.39,374.27 182.38,376.30 183.30,377.45 184.13,379.79 184.89,380.48 185.61,381.68 186.31,383.34 187.03,383.07 187.80,385.89 188.69,386.62 189.67,387.72 190.68,389.99 191.63,390.48 192.43,393.00 193.00,393.14 195.18,401.54 197.06,399.50 199.97,393.10 203.15,414.27 205.25,408.05 207.08,418.72 209.50,419.75 211.47,417.44 213.07,422.19 215.24,413.64 217.79,430.61 220.15,412.77 222.14,427.52 224.76,436.50 227.00,425.34 229.63,431.21 232.27,414.47 235.04,436.28 236.71,419.46 238.69,434.33 240.31,413.09 242.14,431.91 244.55,414.02" fill="none" stroke="#00dd00" stroke-width="1.6" stroke-linejoin="round" stroke-linecap="round" />
<polyline points="50.50,342.57 52.64,342.20 55.61,341.56 59.12,340.62 62.89,340.39 66.61,339.48 70.00,338.65 73.06,337.41 76.04,337.26 78.97,336.44 81.91,335.48 84.90,334.89 88.00,333.87 91.22,332.85 94.52,331.88 97.88,331.06 101.26,330.00 104.64,329.29 108.00,328.67 111.47,327.68 115.11,326.76 118.75,325.64 122.22,324.38 125.36,323.80 128.00,323.16 130.09,323.21 131.74,323.16 133.06,323.27 134.15,323.81 135.09,324.12 136.00,323.30 136.78,323.05 137.34,321.42 137.77,320.38 138.13,319.06 138.52,318.13 139.00,317.11 139.58,315.84 140.21,314.33 140.85,313.52 141.49,312.05 142.12,311.10 142.70,310.99 143.20,310.48 143.61,310.42 144.01,310.50 144.44,311.02 144.99,311.17 145.70,312.14 146.61,313.04 147.68,314.44 148.85,315.65 150.08,317.71 151.31,319.07 152.50,320.15 153.67,321.50 154.87,323.81 156.08,324.42 157.27,327.49 158.42,327.67 159.50,328.95 160.50,330.50 161.42,333.31 162.31,333.56 163.18,334.51 164.07,335.68 165.00,337.17 165.98,339.95 166.99,341.54 168.01,343.40 169.04,345.25 170.08,345.81 171.10,348.46 172.12,349.73 173.13,352.22 174.15,353.88 175.17,355.65 176.18,355.76 177.20,358.76 178.23,360.35 179.28,361.86 180.32,361.77 181.36,363.35 182.35,364.58 183.30,365.86 184.17,368.79 184.97,370.22 185.74,371.40 186.51,373.20 187.32,374.25 188.20,374.92 189.20,375.71 190.31,376.70 191.46,378.81 192.57,378.74 193.57,379.94 194.40,381.26 195.02,381.87 195.49,383.78 195.85,385.38 196.16,387.70 196.46,388.51 196.80,389.68 197.20,391.93 197.63,392.13 198.05,393.67 198.44,394.05 198.76,393.65 199.00,394.84 201.30,400.10 204.03,401.36 207.01,408.24 208.88,404.60 211.70,406.56 214.08,411.33 215.98,407.83 218.91,415.48 220.96,410.30 223.36,417.37 225.09,418.45 227.95,415.29 230.19,421.54 231.93,417.85 233.86,413.07 236.26,419.10 238.23,409.54 241.04,403.91 243.20,403.96 246.15,399.93" fill="none" stroke="#ff0000" stroke-width="1.6" stroke-linejoin="round" stroke-linecap="round" />
<polyline points="50.50,337.37 52.64,337.06 55.61,336.60 59.12,335.65 62.89,334.45 66.61,333.80 70.00,333.27 73.06,332.05 76.04,331.27 78.97,330.59 81.91,330.09 84.90,329.39 88.00,328.06 91.22,327.16 94.52,326.27 97.88,325.35 101.26,324.49 104.64,323.24 108.00,322.38 111.51,321.26 115.23,320.73 118.94,319.47 122.45,318.01 125.54,317.72 128.00,316.42 129.70,316.13 130.80,316.23 131.47,315.91 131.91,315.77 132.33,315.54 132.90,315.39 133.59,315.90 134.25,315.96 134.87,316.54 135.46,317.07 136.04,316.97 136.60,316.93 137.13,316.35 137.63,314.99 138.10,313.29 138.57,311.73 139.07,310.06 139.60,308.55 140.18,307.80 140.81,306.64 141.45,305.94 142.09,305.27 142.72,304.33 143.30,304.05 143.80,304.03 144.23,303.85 144.64,303.95 145.09,304.70 145.62,305.37 146.30,305.99 147.14,306.81 148.09,307.98 149.13,309.08 150.23,310.53 151.37,311.59 152.50,312.76 153.68,314.84 154.93,315.51 156.21,317.79 157.48,320.16 158.69,321.71 159.80,323.13 160.76,323.90 161.61,325.58 162.40,326.97 163.19,328.60 164.04,329.58 165.00,331.52 166.12,333.55 167.37,333.88 168.67,336.44 169.97,338.36 171.20,339.29 172.30,340.98 173.24,343.21 174.07,342.78 174.83,344.88 175.57,345.34 176.34,347.61 177.20,349.09 178.15,349.52 179.14,349.91 180.17,351.90 181.21,353.04 182.26,354.65 183.30,355.72 184.33,357.59 185.36,359.74 186.40,361.09 187.44,362.83 188.47,365.70 189.50,366.18 190.55,368.82 191.63,370.14 192.71,372.61 193.75,373.15 194.72,376.18 195.60,376.24 196.34,376.46 196.97,377.21 197.53,377.59 198.07,377.04 198.65,378.08 199.30,378.76 200.09,380.43 201.00,381.36 201.93,382.93 202.81,384.54 203.57,386.93 204.10,388.29 206.54,388.59 208.77,394.95 211.61,400.45 213.96,400.33 217.11,406.86 220.02,409.24 222.09,408.42 225.02,413.59 227.05,409.43 229.33,410.07 232.09,407.98 234.17,409.01 236.79,404.53 239.87,403.05 242.80,398.74 244.62,398.99" fill="none" stroke="#000000" stroke-width="1.6" stroke-linejoin="round" stroke-linecap="round" />
</g>
<line x1="102.6" y1="419.8" x2="102.6" y2="305" stroke="#222" stroke-width="1.5"/>
<polygon points="102.6,297 98.1,310.2 102.6,307.6 107.1,310.2" fill="#111"/>
<text stroke="#000" x="92" y="417.6" font-family="Liberation Serif" font-weight="bold" stroke-width="0.5" font-size="12.2" fill="#000">V</text>
<text stroke="#000" x="56.6" y="311.5" font-family="Liberation Serif" font-weight="bold" stroke-width="0.5" font-size="25" fill="#000">(b)</text>
<line x1="49.9" y1="285.5" x2="284.3" y2="285.5" stroke="#5a5a5a" stroke-width="1.3"/>
<line x1="283.7" y1="285.5" x2="283.7" y2="460.3" stroke="#5a5a5a" stroke-width="1.3"/>
<line x1="50.5" y1="285.5" x2="50.5" y2="460.3" stroke="#9a9a9a" stroke-width="1.3"/>
<line x1="49.9" y1="460.3" x2="284.3" y2="460.3" stroke="#1a1a1a" stroke-width="1.3"/>
<line x1="50.5" y1="460.09" x2="52.50" y2="460.09" stroke="#222" stroke-width="0.9"/>
<line x1="50.5" y1="455.99" x2="52.50" y2="455.99" stroke="#222" stroke-width="0.9"/>
<line x1="50.5" y1="452.52" x2="52.50" y2="452.52" stroke="#222" stroke-width="0.9"/>
<line x1="50.5" y1="449.52" x2="52.50" y2="449.52" stroke="#222" stroke-width="0.9"/>
<line x1="50.5" y1="446.87" x2="52.50" y2="446.87" stroke="#222" stroke-width="0.9"/>
<line x1="50.5" y1="444.50" x2="54.00" y2="444.50" stroke="#222" stroke-width="0.9"/>
<line x1="50.5" y1="428.91" x2="52.50" y2="428.91" stroke="#222" stroke-width="0.9"/>
<line x1="50.5" y1="419.79" x2="52.50" y2="419.79" stroke="#222" stroke-width="0.9"/>
<line x1="50.5" y1="413.31" x2="52.50" y2="413.31" stroke="#222" stroke-width="0.9"/>
<line x1="50.5" y1="408.29" x2="52.50" y2="408.29" stroke="#222" stroke-width="0.9"/>
<line x1="50.5" y1="404.19" x2="52.50" y2="404.19" stroke="#222" stroke-width="0.9"/>
<line x1="50.5" y1="400.72" x2="52.50" y2="400.72" stroke="#222" stroke-width="0.9"/>
<line x1="50.5" y1="397.72" x2="52.50" y2="397.72" stroke="#222" stroke-width="0.9"/>
<line x1="50.5" y1="395.07" x2="52.50" y2="395.07" stroke="#222" stroke-width="0.9"/>
<line x1="50.5" y1="392.70" x2="54.00" y2="392.70" stroke="#222" stroke-width="0.9"/>
<line x1="50.5" y1="377.11" x2="52.50" y2="377.11" stroke="#222" stroke-width="0.9"/>
<line x1="50.5" y1="367.99" x2="52.50" y2="367.99" stroke="#222" stroke-width="0.9"/>
<line x1="50.5" y1="361.51" x2="52.50" y2="361.51" stroke="#222" stroke-width="0.9"/>
<line x1="50.5" y1="356.49" x2="52.50" y2="356.49" stroke="#222" stroke-width="0.9"/>
<line x1="50.5" y1="352.39" x2="52.50" y2="352.39" stroke="#222" stroke-width="0.9"/>
<line x1="50.5" y1="348.92" x2="52.50" y2="348.92" stroke="#222" stroke-width="0.9"/>
<line x1="50.5" y1="345.92" x2="52.50" y2="345.92" stroke="#222" stroke-width="0.9"/>
<line x1="50.5" y1="343.27" x2="52.50" y2="343.27" stroke="#222" stroke-width="0.9"/>
<line x1="50.5" y1="340.90" x2="54.00" y2="340.90" stroke="#222" stroke-width="0.9"/>
<line x1="50.5" y1="325.31" x2="52.50" y2="325.31" stroke="#222" stroke-width="0.9"/>
<line x1="50.5" y1="316.19" x2="52.50" y2="316.19" stroke="#222" stroke-width="0.9"/>
<line x1="50.5" y1="309.71" x2="52.50" y2="309.71" stroke="#222" stroke-width="0.9"/>
<line x1="50.5" y1="304.69" x2="52.50" y2="304.69" stroke="#222" stroke-width="0.9"/>
<line x1="50.5" y1="300.59" x2="52.50" y2="300.59" stroke="#222" stroke-width="0.9"/>
<line x1="50.5" y1="297.12" x2="52.50" y2="297.12" stroke="#222" stroke-width="0.9"/>
<line x1="50.5" y1="294.12" x2="52.50" y2="294.12" stroke="#222" stroke-width="0.9"/>
<line x1="50.5" y1="291.47" x2="52.50" y2="291.47" stroke="#222" stroke-width="0.9"/>
<line x1="50.5" y1="289.10" x2="54.00" y2="289.10" stroke="#222" stroke-width="0.9"/>
<line x1="62.20" y1="460.3" x2="62.20" y2="456.80" stroke="#222" stroke-width="0.9"/>
<line x1="92.92" y1="460.3" x2="92.92" y2="458.10" stroke="#222" stroke-width="0.9"/>
<line x1="123.63" y1="460.3" x2="123.63" y2="456.80" stroke="#222" stroke-width="0.9"/>
<line x1="154.35" y1="460.3" x2="154.35" y2="458.10" stroke="#222" stroke-width="0.9"/>
<line x1="185.07" y1="460.3" x2="185.07" y2="456.80" stroke="#222" stroke-width="0.9"/>
<line x1="215.79" y1="460.3" x2="215.79" y2="458.10" stroke="#222" stroke-width="0.9"/>
<line x1="246.50" y1="460.3" x2="246.50" y2="456.80" stroke="#222" stroke-width="0.9"/>
<line x1="277.22" y1="460.3" x2="277.22" y2="458.10" stroke="#222" stroke-width="0.9"/>
<text stroke="#000" x="46.5" y="450.30" text-anchor="end" font-family="Liberation Serif" font-weight="bold" stroke-width="0.5" font-size="13" fill="#000">10<tspan font-size="7.8" dy="-7.3">0</tspan></text>
<text stroke="#000" x="46.5" y="398.50" text-anchor="end" font-family="Liberation Serif" font-weight="bold" stroke-width="0.5" font-size="13" fill="#000">10<tspan font-size="7.8" dy="-7.3">1</tspan></text>
<text stroke="#000" x="46.5" y="346.70" text-anchor="end" font-family="Liberation Serif" font-weight="bold" stroke-width="0.5" font-size="13" fill="#000">10<tspan font-size="7.8" dy="-7.3">2</tspan></text>
<text stroke="#000" x="46.5" y="294.90" text-anchor="end" font-family="Liberation Serif" font-weight="bold" stroke-width="0.5" font-size="13" fill="#000">10<tspan font-size="7.8" dy="-7.3">3</tspan></text>
<text stroke="#000" x="62.20" y="474.6" text-anchor="middle" font-family="Liberation Serif" font-weight="bold" stroke-width="0.5" font-size="13.6" fill="#000">300</text>
<text stroke="#000" x="123.63" y="474.6" text-anchor="middle" font-family="Liberation Serif" font-weight="bold" stroke-width="0.5" font-size="13.6" fill="#000">350</text>
<text stroke="#000" x="185.07" y="474.6" text-anchor="middle" font-family="Liberation Serif" font-weight="bold" stroke-width="0.5" font-size="13.6" fill="#000">400</text>
<text stroke="#000" x="246.50" y="474.6" text-anchor="middle" font-family="Liberation Serif" font-weight="bold" stroke-width="0.5" font-size="13.6" fill="#000">450</text>
<text stroke="#000" x="94.5" y="497.6" font-family="Liberation Serif" font-weight="bold" stroke-width="0.5" font-size="18.4" fill="#000">Wavelength (nm)</text>
<text stroke="#000" transform="translate(21.6,455) rotate(-90)" font-family="Liberation Serif" font-weight="bold" stroke-width="0.5" font-size="18.1" fill="#000">Responsivity (mA/W)</text>
<rect x="242.4" y="314.4" width="59.1" height="142.8" fill="#fff" stroke="#aaa" stroke-width="0.9"/>
<line x1="247.8" y1="332.4" x2="272.4" y2="332.4" stroke="#000000" stroke-width="1.6"/>
<text stroke="#000" x="275.2" y="336.20" font-family="Liberation Serif" font-weight="bold" stroke-width="0.5" font-size="11.2" fill="#000">75 V</text>
<line x1="247.8" y1="345.5" x2="272.4" y2="345.5" stroke="#ff0000" stroke-width="1.6"/>
<text stroke="#000" x="275.2" y="349.30" font-family="Liberation Serif" font-weight="bold" stroke-width="0.5" font-size="11.2" fill="#000">65 V</text>
<line x1="247.8" y1="358.6" x2="272.4" y2="358.6" stroke="#00dd00" stroke-width="1.6"/>
<text stroke="#000" x="275.2" y="362.40" font-family="Liberation Serif" font-weight="bold" stroke-width="0.5" font-size="11.2" fill="#000">55 V</text>
<line x1="247.8" y1="371.9" x2="272.4" y2="371.9" stroke="#0000ff" stroke-width="1.6"/>
<text stroke="#000" x="275.2" y="375.70" font-family="Liberation Serif" font-weight="bold" stroke-width="0.5" font-size="11.2" fill="#000">45 V</text>
<line x1="247.8" y1="385.0" x2="272.4" y2="385.0" stroke="#00eeee" stroke-width="1.6"/>
<text stroke="#000" x="275.2" y="388.80" font-family="Liberation Serif" font-weight="bold" stroke-width="0.5" font-size="11.2" fill="#000">35 V</text>
<line x1="247.8" y1="398.4" x2="272.4" y2="398.4" stroke="#ff00ff" stroke-width="1.6"/>
<text stroke="#000" x="275.2" y="402.20" font-family="Liberation Serif" font-weight="bold" stroke-width="0.5" font-size="11.2" fill="#000">25 V</text>
<line x1="247.8" y1="411.7" x2="272.4" y2="411.7" stroke="#ffff00" stroke-width="1.6"/>
<text stroke="#000" x="275.2" y="415.50" font-family="Liberation Serif" font-weight="bold" stroke-width="0.5" font-size="11.2" fill="#000">15 V</text>
<line x1="249.9" y1="425.0" x2="275.6" y2="425.0" stroke="#7f7f00" stroke-width="1.6"/>
<text stroke="#000" x="277.7" y="428.80" font-family="Liberation Serif" font-weight="bold" stroke-width="0.5" font-size="11.2" fill="#000">5 V</text>
<line x1="249.3" y1="438.2" x2="274.1" y2="438.2" stroke="#000090" stroke-width="1.6"/>
<text stroke="#000" x="279.9" y="442.00" font-family="Liberation Serif" font-weight="bold" stroke-width="0.5" font-size="11.2" fill="#000">0 V</text></svg></body></html>
